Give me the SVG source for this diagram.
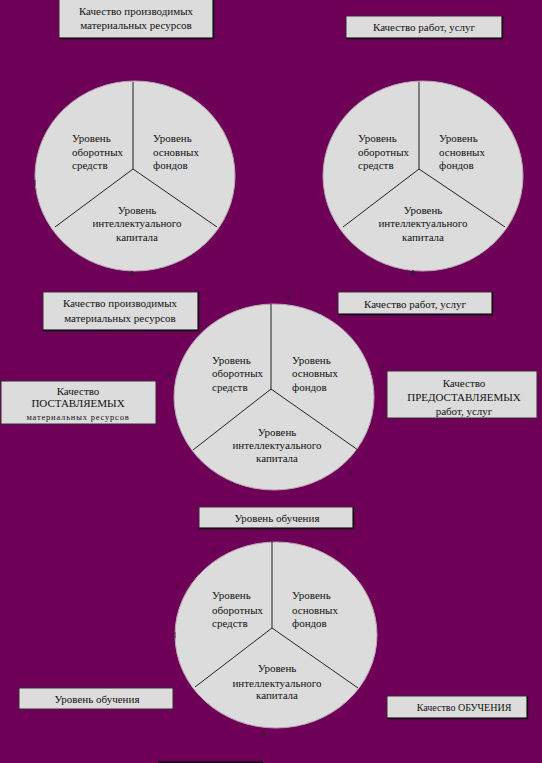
<svg xmlns="http://www.w3.org/2000/svg" width="542" height="763" viewBox="0 0 542 763">
<style>
.bg{fill:#6f0058}
.pie{fill:#dcdcdc;stroke:#b9a9b4;stroke-width:1}
.div{fill:none;stroke:#222;stroke-width:1}
.box{fill:#dcdcdc;stroke:#3a2a35;stroke-width:1}
.sh{fill:none;stroke:#111;stroke-width:1.5}
text{font-family:"Liberation Serif","Times New Roman",serif;font-size:11px;fill:#111}
.c{text-anchor:middle}
.mk{fill:none;stroke:#222;stroke-width:0.8}
</style>
<rect class="bg" x="0" y="0" width="542" height="763"/>

<g id="pie1">
<ellipse class="pie" cx="135" cy="176" rx="100" ry="95"/>
<path class="div" d="M133 82 V169 L55 227 M133 169 L217 227"/>
<text x="72" y="142">Уровень</text><text x="72" y="156">оборотных</text><text x="72" y="169">средств</text>
<text x="153" y="142">Уровень</text><text x="153" y="156">основных</text><text x="153" y="169">фондов</text>
<text class="c" x="137" y="214">Уровень</text><text class="c" x="137" y="227">интеллектуального</text><text class="c" x="137" y="241">капитала</text>
</g>

<g id="pie2">
<ellipse class="pie" cx="423" cy="176" rx="100" ry="95"/>
<path class="div" d="M419 82 V169 L343 227 M419 169 L505 227"/>
<text x="358" y="142">Уровень</text><text x="358" y="156">оборотных</text><text x="358" y="169">средств</text>
<text x="439" y="142">Уровень</text><text x="439" y="156">основных</text><text x="439" y="169">фондов</text>
<text class="c" x="423" y="214">Уровень</text><text class="c" x="423" y="227">интеллектуального</text><text class="c" x="423" y="241">капитала</text>
</g>

<g id="pie3">
<ellipse class="pie" cx="274" cy="397" rx="100" ry="93"/>
<path class="div" d="M271 304 V389 L193 450 M271 389 L358 450"/>
<text x="212" y="364">Уровень</text><text x="212" y="377">оборотных</text><text x="212" y="391">средств</text>
<text x="292" y="364">Уровень</text><text x="292" y="377">основных</text><text x="292" y="391">фондов</text>
<text class="c" x="277" y="436">Уровень</text><text class="c" x="277" y="449">интеллектуального</text><text class="c" x="277" y="462">капитала</text>
</g>

<g id="pie4">
<ellipse class="pie" cx="276" cy="635" rx="101" ry="93"/>
<path class="div" d="M272 542 V628 L195 687 M272 628 L358 688"/>
<text x="212" y="599">Уровень</text><text x="212" y="614">оборотных</text><text x="212" y="627">средств</text>
<text x="292" y="599">Уровень</text><text x="292" y="614">основных</text><text x="292" y="627">фондов</text>
<text class="c" x="277" y="672">Уровень</text><text class="c" x="277" y="687">интеллектуального</text><text class="c" x="277" y="699">капитала</text>
</g>

<g id="box1">
<rect class="box" x="59" y="-1" width="154" height="39"/>
<path class="sh" d="M59 38.5 H213.5 V0"/>
<text class="c" x="136" y="15">Качество производимых</text>
<text class="c" x="136" y="29">материальных ресурсов</text>
</g>
<g id="box2">
<rect class="box" x="346" y="16" width="156" height="22"/>
<path class="sh" d="M346 38.5 H502.5 V16"/>
<text class="c" x="424" y="31">Качество работ, услуг</text>
</g>
<g id="box3">
<rect class="box" x="43" y="292" width="155" height="38"/>
<path class="sh" d="M43 330.5 H198.5 V292"/>
<text class="c" x="120" y="307">Качество производимых</text>
<text class="c" x="120" y="322">материальных ресурсов</text>
</g>
<g id="box4">
<rect class="box" x="1" y="381" width="155" height="43"/>
<text class="c" x="78" y="395">Качество</text>
<text class="c" x="78" y="407">ПОСТАВЛЯЕМЫХ</text>
<text class="c" x="78" y="420" style="font-size:8.5px;letter-spacing:0.8px">материальных ресурсов</text>
</g>
<g id="box5">
<rect class="box" x="338" y="292" width="154" height="22"/>
<path class="sh" d="M338 314.5 H492.5 V292"/>
<text class="c" x="415" y="308">Качество работ, услуг</text>
</g>
<g id="box6">
<rect class="box" x="387" y="371" width="150" height="47"/>
<text class="c" x="464" y="387">Качество</text>
<text class="c" x="464" y="401">ПРЕДОСТАВЛЯЕМЫХ</text>
<text class="c" x="464" y="415">работ, услуг</text>
</g>
<g id="box7">
<rect class="box" x="199" y="507" width="154" height="21"/>
<path class="sh" d="M199 528.5 H353.5 V507"/>
<text class="c" x="277" y="522">Уровень обучения</text>
</g>
<g id="box8">
<rect class="box" x="19" y="688" width="154" height="21"/>
<text class="c" x="97" y="703">Уровень обучения</text>
</g>
<g id="box9">
<rect class="box" x="387" y="696" width="140" height="22"/>
<path class="sh" d="M387 718.5 H527.5 V696"/>
<text class="c" x="464" y="711" style="font-size:10px">Качество ОБУЧЕНИЯ</text>
</g>
<g id="box10">
<path d="M158 762 H263" stroke="#111" stroke-width="1.5"/>
</g>

<g id="connectors">
<path class="mk" d="M73 91 L75 94 L77 91 M196 91 L198 94 L200 91 M43 128 L46 130 L43 132 M130 275 L132 271 L134 275 Z M35 180 V186"/>
<path class="mk" d="M360 93 H364 M483 92 H487 M325 129 H326 M411 274 L413 270 L415 274 Z"/>
<path class="mk" d="M286 296 H290 L288 300 M166 373 L169 375 L166 377 M169 372 L172 374 L169 376 M26 303 H27 M384 364 L381 366 L384 368 M352 471 L349 473 L352 475"/>
<path class="mk" d="M215 550 V554 M337 550 V554 M176 585 L179 587 L176 589 M175 632 V638 M261 735 L263 731 L265 735 Z M503 743 H504"/>
</g>
</svg>
